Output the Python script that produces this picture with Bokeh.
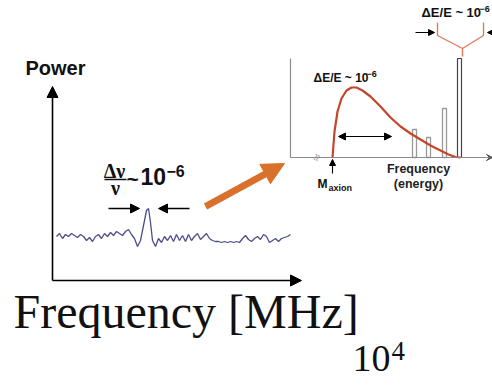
from bokeh.plotting import figure
from bokeh.models import Range1d, Arrow, NormalHead, VeeHead
from bokeh.embed import file_html
from bokeh.resources import INLINE
from bokeh.core.properties import value

# ---------------- data (page pixel units) ----------------
# noisy power spectrum (left panel)
noise_x = [56, 59, 62, 65, 68, 71, 74, 77, 80, 83, 86, 89, 92, 95, 98, 101, 104, 107, 110, 113,
           116, 119, 122, 125, 128, 131, 134, 137, 140, 143, 146, 148, 150, 152, 155, 158, 161,
           164, 167, 170, 173, 176, 179, 182, 185, 188, 191, 194, 197, 200, 203, 206, 209, 212,
           215, 218, 221, 224, 227, 230, 233, 236, 239, 242, 245, 248, 251, 254, 257, 260, 263,
           266, 269, 272, 275, 278, 281, 284, 287, 290]
noise_y = [236, 233, 238, 234, 236, 233, 235, 237, 234, 236, 240, 237, 241, 236, 234, 238, 233,
           236, 232, 235, 231, 233, 235, 231, 229, 234, 238, 246, 240, 225, 210, 208, 222, 240,
           246, 238, 242, 236, 240, 235, 241, 234, 240, 235, 241, 234, 240, 236, 233, 239, 236,
           233, 238, 240, 241, 241, 242, 241, 242, 241, 242, 241, 242, 238, 235, 239, 241, 238,
           236, 239, 234, 236, 242, 240, 238, 241, 238, 237, 236, 234]

# axion line shape (inset)
curve_x = [332, 334, 337, 341, 346, 351, 356, 362, 370, 380, 390, 400, 410, 420, 430, 440, 448, 455, 460]
curve_y = [157, 131, 111, 98, 90, 87, 87, 90, 96, 106, 117, 126, 133, 139, 145, 150, 154, 156.5, 157]

# spectral lines in the inset: left, right, top
bar_left = [412, 426, 442]
bar_right = [416, 430, 446]
bar_top = [129, 137, 108]
tall_left, tall_right, tall_top = 457, 461, 58

# bracket on top
bracket_x = [437, 437, 462, 483, 483]
bracket_y = [22, 35, 48, 35, 22]

# ---------------- figure ----------------
W, H = 492, 387
p = figure(width=W, height=H, x_range=Range1d(0, W), y_range=Range1d(H, 0),
           output_backend="svg", toolbar_location=None, min_border=0,
           x_axis_location=None, y_axis_location=None)
p.grid.visible = False
p.outline_line_color = None
p.background_fill_color = "white"
p.border_fill_color = "white"

SANS = value("Liberation Sans")
SERIF = value("Liberation Serif")

# ---- left panel axes ----
p.add_layout(Arrow(end=NormalHead(size=11, fill_color="black", line_color="black"),
                   x_start=52, y_start=280, x_end=52, y_end=86, line_width=1.6, line_color="black"))
p.add_layout(Arrow(end=NormalHead(size=11, fill_color="black", line_color="black"),
                   x_start=52, y_start=280, x_end=301, y_end=280, line_width=1.6, line_color="black"))
p.text(x=[25], y=[67], text=["Power"], text_font=SANS, text_font_style="bold",
       text_font_size="20px", text_baseline="middle", text_color="#111111")

# noise trace
p.line(noise_x, noise_y, line_color="#4d4d8a", line_width=1.3)

# delta nu / nu label
p.text(x=[114], y=[170], text=["Δν"], text_font=SERIF, text_font_style="bold",
       text_font_size="20px", text_align="center", text_baseline="middle", text_color="#111111")
p.line([104, 126], [179, 179], line_color="#111111", line_width=1.4)
p.text(x=[115], y=[187], text=["ν"], text_font=SERIF, text_font_style="bold",
       text_font_size="20px", text_align="center", text_baseline="middle", text_color="#111111")
p.text(x=[126], y=[178], text=["~"], text_font=SANS, text_font_style="bold",
       text_font_size="21px", text_baseline="middle", text_color="#111111")
p.text(x=[140], y=[176], text=["10"], text_font=SANS, text_font_style="bold",
       text_font_size="23px", text_baseline="middle", text_color="#111111")
p.text(x=[166], y=[170], text=["−6"], text_font=SANS, text_font_style="bold",
       text_font_size="16px", text_baseline="middle", text_color="#111111")
p.add_layout(Arrow(end=NormalHead(size=9, fill_color="black", line_color="black"),
                   x_start=108, y_start=208, x_end=139, y_end=208, line_width=1.4))
p.add_layout(Arrow(end=NormalHead(size=9, fill_color="black", line_color="black"),
                   x_start=189, y_start=208, x_end=158, y_end=208, line_width=1.4))

# orange arrow
ORANGE = "#d9702c"
p.add_layout(Arrow(end=NormalHead(size=22, fill_color=ORANGE, line_color=ORANGE),
                   x_start=205, y_start=206, x_end=284, y_end=163,
                   line_width=7, line_color=ORANGE))

# ---- inset ----
GREY = "#8c8c8c"
p.line([290, 290], [58, 157], line_color=GREY, line_width=1.2)
p.add_layout(Arrow(end=VeeHead(size=6, fill_color="#555555", line_color="#555555"),
                   x_start=290, y_start=157, x_end=492, y_end=157, line_width=1.2, line_color=GREY))
p.text(x=[316], y=[157], text=["≈"], text_font=SERIF, text_font_size="13px", angle=1.2,
       text_align="center", text_baseline="middle", text_color=GREY)

p.quad(left=bar_left, right=bar_right, top=bar_top, bottom=[157] * len(bar_left),
       fill_color="white", line_color="#9a9a9a", line_width=1.3)
p.quad(left=[tall_left], right=[tall_right], top=[tall_top], bottom=[157],
       fill_color="white", line_color="#444444", line_width=1.2)

p.line(curve_x, curve_y, line_color="#c4452c", line_width=2.2)

p.text(x=[313], y=[77], text=["ΔE/E ~ 10"], text_font=SANS, text_font_style="bold",
       text_font_size="12px", text_baseline="middle", text_color="#111111")
p.text(x=[366], y=[73], text=["−6"], text_font=SANS, text_font_style="bold",
       text_font_size="9px", text_baseline="middle", text_color="#111111")

p.add_layout(Arrow(start=NormalHead(size=7, fill_color="black", line_color="black"),
                   end=NormalHead(size=7, fill_color="black", line_color="black"),
                   x_start=338, y_start=136, x_end=391, y_end=136, line_width=1.2))

p.add_layout(Arrow(end=NormalHead(size=6, fill_color="black", line_color="black"),
                   x_start=332, y_start=173, x_end=332, y_end=159, line_width=1.1))
p.text(x=[317], y=[183], text=["M"], text_font=SANS, text_font_style="bold",
       text_font_size="12px", text_baseline="middle", text_color="#111111")
p.text(x=[328], y=[187], text=["axion"], text_font=SANS, text_font_style="bold",
       text_font_size="9px", text_baseline="middle", text_color="#111111")
p.text(x=[418, 418], y=[168, 183], text=["Frequency", "(energy)"], text_font=SANS,
       text_font_style="bold", text_font_size="12.5px", text_align="center",
       text_baseline="middle", text_color="#222222")

# bracket on top
p.line(bracket_x, bracket_y, line_color="#e07a5a", line_width=1.4)
p.line([462, 462], [48, 56], line_color="#e07a5a", line_width=1.4)
p.add_layout(Arrow(end=NormalHead(size=6, fill_color="black", line_color="black"),
                   x_start=415, y_start=32, x_end=434, y_end=32, line_width=1.1))
p.add_layout(Arrow(end=NormalHead(size=6, fill_color="black", line_color="black"),
                   x_start=500, y_start=32, x_end=487, y_end=32, line_width=1.1))
p.text(x=[421], y=[12], text=["ΔE/E ~ 10"], text_font=SANS, text_font_style="bold",
       text_font_size="13px", text_baseline="middle", text_color="#111111")
p.text(x=[479], y=[8], text=["−6"], text_font=SANS, text_font_style="bold",
       text_font_size="9px", text_baseline="middle", text_color="#111111")

# ---- bottom labels ----
p.text(x=[13], y=[284], text=["Frequency [MHz]"], text_font=SERIF,
       text_font_size="48px", text_baseline="top", text_color="#111111")
p.text(x=[352], y=[345], text=["10"], text_font=SERIF,
       text_font_size="38px", text_baseline="top", text_color="#111111")
p.text(x=[391], y=[341], text=["4"], text_font=SERIF,
       text_font_size="27px", text_baseline="top", text_color="#111111")

open("out.html", "w").write(file_html(p, INLINE))
